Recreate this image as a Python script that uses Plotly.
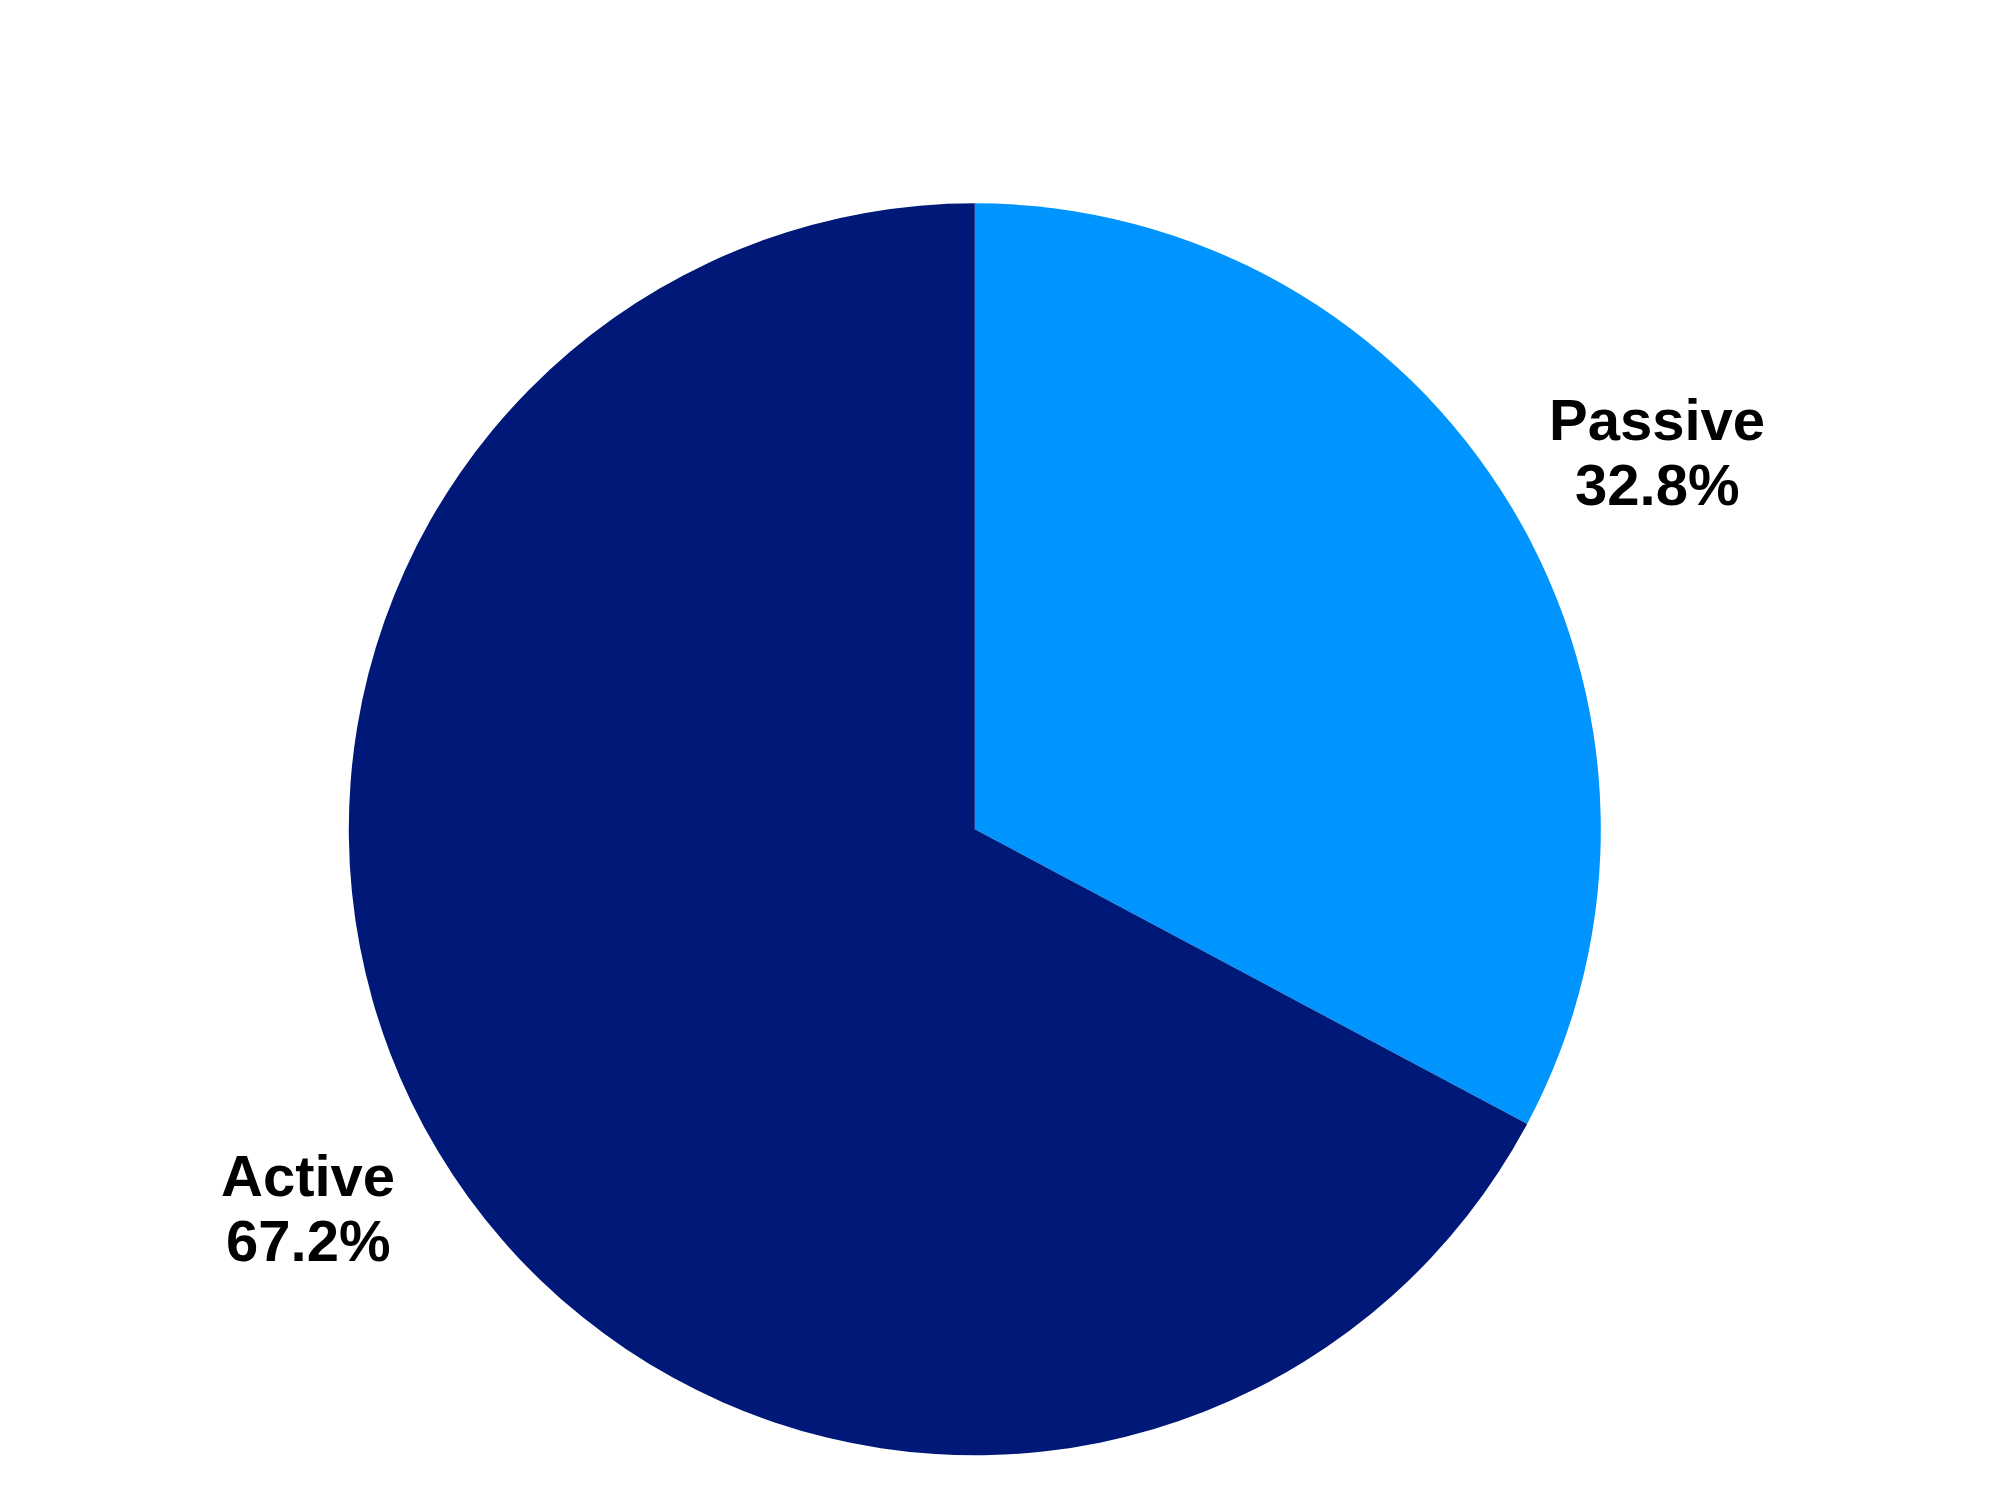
import math
import plotly.graph_objects as go

labels = ["Passive", "Active"]
values = [32.8, 67.2]
colors = ["#0094FF", "#001978"]

W, H = 2000, 1500
cx, cy, R = 974.5, 829.0, 626.0  # pixel center (from top) and radius
dx_fix, dy_fix = -7.7, -7.7      # renderer offset compensation

fig = go.Figure(go.Pie(
    labels=labels,
    values=values,
    sort=False,
    direction="clockwise",
    rotation=0,
    marker=dict(colors=colors, line=dict(width=0)),
    textinfo="none",
    hoverinfo="label+percent",
    showlegend=False,
    domain=dict(x=[(cx + dx_fix - R) / W, (cx + dx_fix + R) / W],
                y=[(H - (cy + dy_fix) - R) / H, (H - (cy + dy_fix) + R) / H]),
))

total = sum(values)
cum = 0.0
k = 1.235
ang_off = math.radians(1.7)
font = dict(family="Liberation Sans, Arial, sans-serif", size=58, color="#000000")
for lab, v in zip(labels, values):
    mid = (cum + v / 2) / total * 2 * math.pi + ang_off
    cum += v
    px = cx + R * k * math.sin(mid)
    py = cy - R * k * math.cos(mid) - 7
    for txt, shift in ((lab, 32.5), (f"{v:.1f}%", -32.5)):
        fig.add_annotation(
            x=px / W, y=1 - py / H, xref="paper", yref="paper",
            text=f"<b>{txt}</b>", showarrow=False, font=font,
            xanchor="center", yanchor="middle", align="center", yshift=shift,
        )

fig.update_layout(
    width=W, height=H,
    margin=dict(l=0, r=0, t=0, b=0),
    paper_bgcolor="white", plot_bgcolor="white",
)
fig.write_html("out.html")
